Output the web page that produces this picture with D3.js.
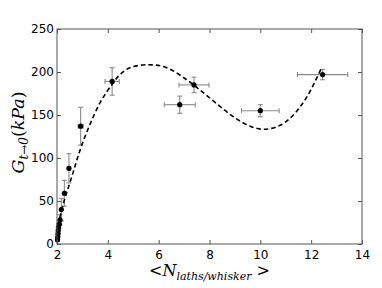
<!DOCTYPE html>
<html>
<head>
<meta charset="utf-8">
<script src="https://cdn.jsdelivr.net/npm/d3@7"></script>
<style>
  body { margin: 0; background: #fff; }
  text { font-family: "DejaVu Sans", sans-serif; }
  .math { font-family: "DejaVu Serif", serif; font-style: italic; }
</style>
</head>
<body>
<div id="chart"></div>
<script>
// measured points
const ptX   = [2.02, 2.03, 2.04, 2.05, 2.06, 2.09, 2.12, 2.17, 2.29, 2.47, 2.93, 4.17, 6.83, 7.39, 10.0, 12.45];
const ptY   = [5, 8, 12, 16, 20, 23, 28, 40, 59, 88, 137, 189, 162, 185, 155, 197];
const errX  = [0.02, 0.02, 0.02, 0.02, 0.02, 0.03, 0.03, 0.04, 0.05, 0.06, 0.1, 0.28, 0.61, 0.59, 0.74, 0.99];
const errY  = [2, 3, 3, 4, 4, 5, 6, 13, 15, 17, 22, 16, 10, 9, 7, 6];

// dashed fit line
const fitX = [2.05, 2.25, 2.58, 3.0, 3.69, 4.2, 4.48, 4.87, 5.6, 6.32, 7.1, 7.63, 8.29, 8.94, 9.6, 10.15, 10.78, 11.3, 11.83, 12.38];
const fitY = [22, 47, 78, 117, 164, 187, 197, 205, 208.5, 205, 191, 179, 163, 148, 137, 133.4, 138, 150, 171, 203];

const xTicks = [2, 4, 6, 8, 10, 12, 14];
const yTicks = [0, 50, 100, 150, 200, 250];

const W = 382, H = 288;
const m = {left: 57, right: 20, top: 29, bottom: 44};

const svg = d3.select("#chart").append("svg")
    .attr("width", W).attr("height", H);

let x = d3.scaleLinear().domain([2, 14]).range([m.left, W - m.right]);
let y = d3.scaleLinear().domain([0, 250]).range([H - m.bottom, m.top]);

// error bars
let grey = "#8a8a8a";
let eb = svg.append("g").attr("stroke", grey).attr("stroke-width", 1.1);
ptX.forEach((v, i) => {
    let cx = x(v), cy = y(ptY[i]);
    let x0 = x(v - errX[i]), x1 = x(v + errX[i]);
    let y0 = y(ptY[i] - errY[i]), y1 = y(ptY[i] + errY[i]);
    eb.append("line").attr("x1", x0).attr("x2", x1).attr("y1", cy).attr("y2", cy);
    eb.append("line").attr("x1", cx).attr("x2", cx).attr("y1", y0).attr("y2", y1);
    // caps
    eb.append("line").attr("x1", cx - 2.5).attr("x2", cx + 2.5).attr("y1", y0).attr("y2", y0);
    eb.append("line").attr("x1", cx - 2.5).attr("x2", cx + 2.5).attr("y1", y1).attr("y2", y1);
    eb.append("line").attr("x1", x0).attr("x2", x0).attr("y1", cy - 2.5).attr("y2", cy + 2.5);
    eb.append("line").attr("x1", x1).attr("x2", x1).attr("y1", cy - 2.5).attr("y2", cy + 2.5);
});

// fit line
let line = d3.line()
    .x(d => x(d[0]))
    .y(d => y(d[1]))
    .curve(d3.curveCatmullRom);
svg.append("path")
    .datum(fitX.map((v, i) => [v, fitY[i]]))
    .attr("d", line)
    .attr("fill", "none")
    .attr("stroke", "#000")
    .attr("stroke-width", 1.6)
    .attr("stroke-dasharray", "4.5,3");

// markers
svg.append("g").selectAll("circle")
    .data(ptX)
    .enter()
    .append("circle")
    .attr("cx", d => x(d))
    .attr("cy", (d, i) => y(ptY[i]))
    .attr("r", 2.6)
    .attr("fill", "#000");

// frame
svg.append("rect")
    .attr("x", m.left).attr("y", m.top)
    .attr("width", W - m.left - m.right)
    .attr("height", H - m.top - m.bottom)
    .attr("fill", "none").attr("stroke", "#555").attr("stroke-width", 1);

// axes, ticks inward
let tickLen = 4;
let xb = svg.append("g").attr("transform", `translate(0,${H - m.bottom})`)
    .call(d3.axisBottom(x).tickValues(xTicks).tickSizeInner(-tickLen).tickSizeOuter(0).tickPadding(6));
let xt = svg.append("g").attr("transform", `translate(0,${m.top})`)
    .call(d3.axisTop(x).tickValues(xTicks).tickSizeInner(-tickLen).tickSizeOuter(0).tickFormat(""));
let yl = svg.append("g").attr("transform", `translate(${m.left},0)`)
    .call(d3.axisLeft(y).tickValues(yTicks).tickSizeInner(-tickLen).tickSizeOuter(0).tickPadding(3));
let yr = svg.append("g").attr("transform", `translate(${W - m.right},0)`)
    .call(d3.axisRight(y).tickValues(yTicks).tickSizeInner(-tickLen).tickSizeOuter(0).tickFormat(""));

[xb, xt, yl, yr].forEach(g => {
    g.select(".domain").remove();
    g.selectAll("line").attr("stroke", "#555");
    g.selectAll("text").attr("font-size", 12).attr("fill", "#000")
      .style("font-family", "'DejaVu Sans', sans-serif");
});

// y label
let ylab = svg.append("text")
    .attr("transform", `translate(24,${(m.top + H - m.bottom) / 2 - 4}) rotate(-90)`)
    .attr("text-anchor", "middle")
    .attr("class", "math")
    .attr("font-size", 17.5);
ylab.append("tspan").text("G");
ylab.append("tspan").attr("font-size", 12).attr("dy", 4).text("t\u21920");
ylab.append("tspan").attr("dy", -4).style("font-style", "normal").text("(");
ylab.append("tspan").text("kPa");
ylab.append("tspan").style("font-style", "normal").text(")");

// x label
let xlab = svg.append("text")
    .attr("x", (m.left + W - m.right) / 2)
    .attr("y", H - 12)
    .attr("text-anchor", "middle")
    .attr("class", "math")
    .attr("font-size", 16);
xlab.append("tspan").style("font-style", "normal").text("<");
xlab.append("tspan").text("N");
xlab.append("tspan").attr("font-size", 11).attr("dy", 4).text("laths/whisker");
xlab.append("tspan").attr("dy", -4).style("font-style", "normal").text(" >");
</script>
</body>
</html>
